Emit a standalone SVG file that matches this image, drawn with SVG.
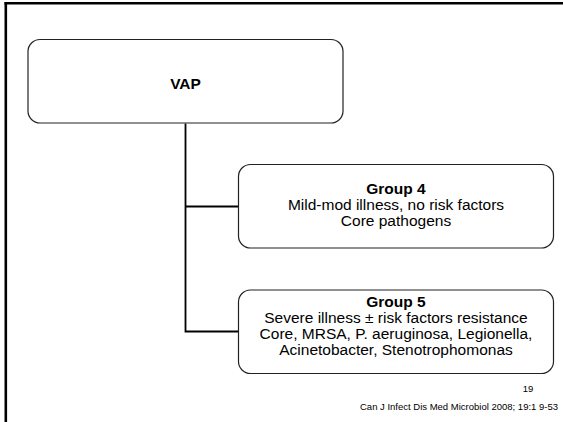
<svg xmlns="http://www.w3.org/2000/svg" width="563" height="422" viewBox="0 0 563 422">
<style>
.box{fill:#fff;stroke:#222;stroke-width:1.2}
.conn{fill:none;stroke:#000;stroke-width:1.8}
.t{font-family:"Liberation Sans",Arial,sans-serif;fill:#000;text-anchor:middle}
.b{font-weight:bold}
</style>
<rect width="563" height="422" fill="#fff"/>
<g id="frame">
<line x1="4.5" y1="3.2" x2="563" y2="3.2" stroke="#000" stroke-width="2.6"/>
<line x1="5.8" y1="2" x2="5.8" y2="422" stroke="#000" stroke-width="2.6"/>
</g>
<g id="connectors">
<path class="conn" d="M185.5 123.5 V331.5 H238.5"/>
<path class="conn" d="M185.5 206.5 H238.5"/>
</g>
<g id="vap">
<rect class="box" x="28" y="39.5" width="315" height="83.5" rx="12" ry="12"/>
<text class="t b" x="185.5" y="88.5" font-size="15.5">VAP</text>
</g>
<g id="group4">
<rect class="box" x="238.5" y="164.5" width="315" height="83.5" rx="12" ry="12"/>
<text class="t" font-size="15.5"><tspan class="b" x="396" y="193.5">Group 4</tspan><tspan x="396" y="209.8">Mild-mod illness, no risk factors</tspan><tspan x="396" y="226">Core pathogens</tspan></text>
</g>
<g id="group5">
<rect class="box" x="238.5" y="290" width="315" height="83.5" rx="12" ry="12"/>
<text class="t" font-size="15.5"><tspan class="b" x="396" y="306.8">Group 5</tspan><tspan x="396" y="323">Severe illness ± risk factors resistance</tspan><tspan x="396" y="339.2">Core, MRSA, P. aeruginosa, Legionella,</tspan><tspan x="396" y="355.4">Acinetobacter, Stenotrophomonas</tspan></text>
</g>
<g id="footer">
<text class="t" x="528" y="392" font-size="9.5">19</text>
<text class="t" x="558" y="410" font-size="9.5" style="text-anchor:end">Can J Infect Dis Med Microbiol 2008; 19:1 9-53</text>
</g>
</svg>
